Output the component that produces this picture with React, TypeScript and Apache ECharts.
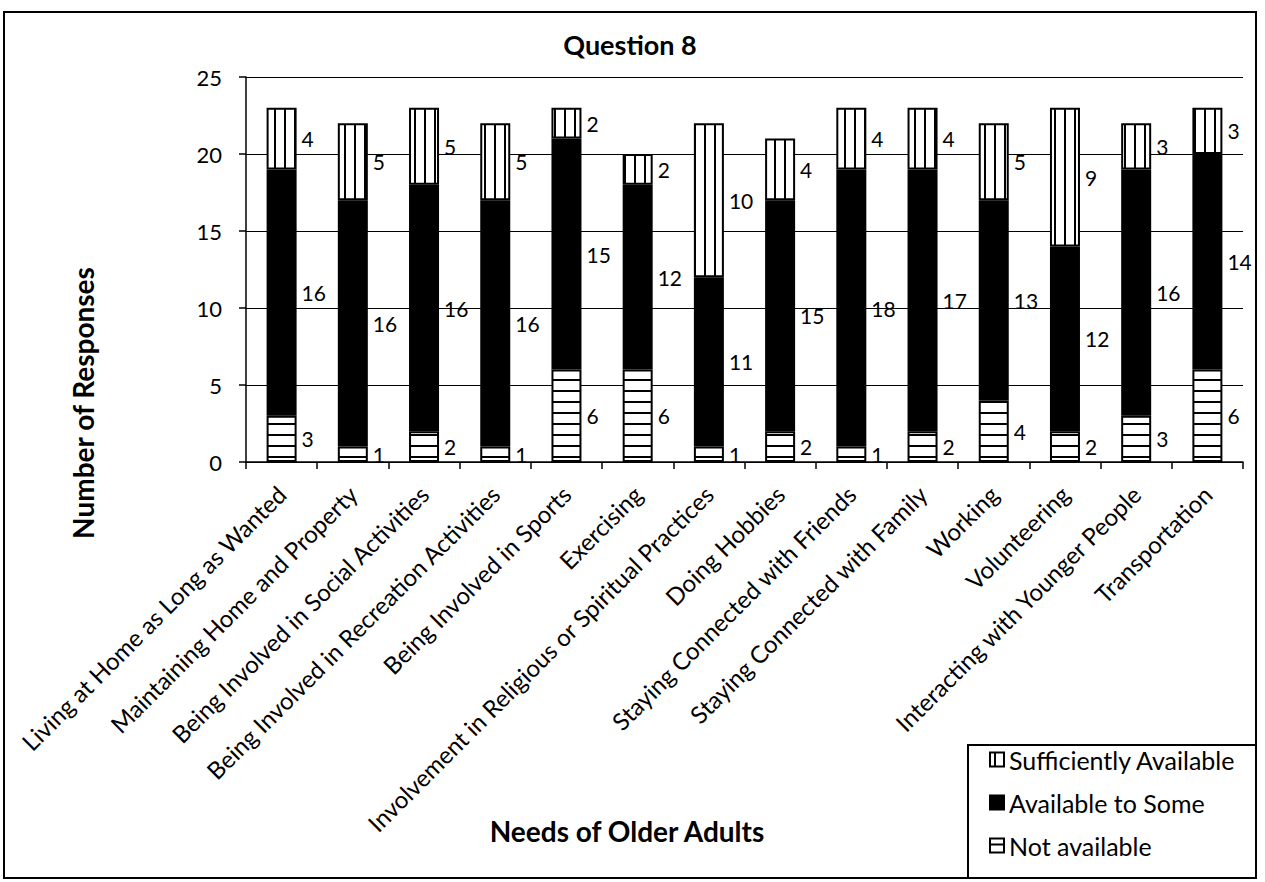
import React, { useEffect, useRef } from "react";
import * as echarts from "echarts";

const categories = [
  "Living at Home as Long as Wanted",
  "Maintaining Home and Property",
  "Being Involved in Social Activities",
  "Being Involved in Recreation Activities",
  "Being Involved in Sports",
  "Exercising",
  "Involvement in Religious or Spiritual Practices",
  "Doing Hobbies",
  "Staying Connected with Friends",
  "Staying Connected with Family",
  "Working",
  "Volunteering",
  "Interacting with Younger People",
  "Transportation",
];
const notAvailable = [3, 1, 2, 1, 6, 6, 1, 2, 1, 2, 4, 2, 3, 6];
const availableToSome = [16, 16, 16, 16, 15, 12, 11, 15, 18, 17, 13, 12, 16, 14];
const sufficientlyAvailable = [4, 5, 5, 5, 2, 2, 10, 4, 4, 4, 5, 9, 3, 3];
const seriesNames = ["Sufficiently Available", "Available to Some", "Not available"];

const FONT = "Lato";

function makePattern(vertical: boolean) {
  const c = document.createElement("canvas");
  if (vertical) {
    c.width = 10;
    c.height = 10;
  } else {
    c.width = 10;
    c.height = 11;
  }
  const ctx = c.getContext("2d")!;
  ctx.fillStyle = "#fff";
  ctx.fillRect(0, 0, c.width, c.height);
  ctx.fillStyle = "#000";
  if (vertical) ctx.fillRect(4, 0, 2, c.height);
  else ctx.fillRect(0, 5, c.width, 2);
  return c;
}

export default function App() {
  const ref = useRef<HTMLDivElement>(null);
  useEffect(() => {
    if (!ref.current) return;
    const chart = echarts.init(ref.current, undefined, { renderer: "svg" });
    const vPat = { image: makePattern(true), repeat: "repeat" } as any;
    const hPat = { image: makePattern(false), repeat: "repeat" } as any;
    const labelCfg = {
      show: true,
      position: "right",
      distance: 5,
      color: "#000",
      fontFamily: FONT,
      fontSize: 21,
    };
    const barCommon = {
      type: "bar",
      stack: "total",
      barWidth: 30,
      label: labelCfg,
    };
    const titleStyle = {
      fontFamily: FONT,
      fontWeight: "bold",
      fontSize: 28,
      fill: "#000",
      textAlign: "center",
      textVerticalAlign: "middle",
    };
    chart.setOption({
      animation: false,
      backgroundColor: "#fff",
      textStyle: { fontFamily: FONT },
      grid: { left: 246, right: 22, top: 77, bottom: 420, containLabel: false },
      legend: {
        orient: "vertical",
        left: 989,
        top: 747,
        icon: "rect",
        itemWidth: 14,
        itemHeight: 14,
        itemGap: 18,
        data: seriesNames,
        textStyle: { fontFamily: FONT, fontSize: 25, color: "#000" },
        padding: 0,
      },
      xAxis: {
        type: "category",
        data: categories,
        axisLine: { lineStyle: { color: "#000", width: 1.5 } },
        axisTick: { show: true, length: 7, lineStyle: { color: "#000", width: 1.5 } },
        axisLabel: {
          interval: 0,
          rotate: 45,
          margin: 28,
          color: "#000",
          fontFamily: FONT,
          fontSize: 24,
        },
      },
      yAxis: {
        type: "value",
        min: 0,
        max: 25,
        interval: 5,
        axisLine: { show: true, lineStyle: { color: "#000", width: 1.5 } },
        axisTick: { show: true, length: 7, lineStyle: { color: "#000", width: 1.5 } },
        splitLine: { lineStyle: { color: "#000", width: 1.2 } },
        axisLabel: { margin: 24, color: "#000", fontFamily: FONT, fontSize: 22 },
      },
      series: [
        {
          ...barCommon,
          name: "Not available",
          data: notAvailable,
          itemStyle: { color: hPat, borderColor: "#000", borderWidth: 2 },
        },
        {
          ...barCommon,
          name: "Available to Some",
          data: availableToSome,
          itemStyle: { color: "#000", borderColor: "#000", borderWidth: 2 },
        },
        {
          ...barCommon,
          name: "Sufficiently Available",
          data: sufficientlyAvailable,
          itemStyle: { color: vPat, borderColor: "#000", borderWidth: 2 },
        },
      ],
      graphic: [
        {
          type: "rect",
          shape: { x: 4, y: 12, width: 1252, height: 866 },
          style: { fill: "none", stroke: "#000", lineWidth: 2 },
          silent: true,
        },
        {
          type: "rect",
          shape: { x: 968, y: 745, width: 288, height: 133 },
          style: { fill: "none", stroke: "#000", lineWidth: 2 },
          silent: true,
        },
        {
          type: "text",
          x: 630,
          y: 44,
          style: { ...titleStyle, text: "Question 8", fontSize: 27 },
        },
        {
          type: "text",
          x: 627,
          y: 831,
          style: { ...titleStyle, text: "Needs of Older Adults" },
        },
        {
          type: "text",
          x: 83,
          y: 403,
          rotation: Math.PI / 2,
          style: { ...titleStyle, text: "Number of Responses" },
        },
      ],
    });
    return () => chart.dispose();
  }, []);
  return (
    <div
      ref={ref}
      style={{ position: "fixed", left: 0, top: 0, width: 1265, height: 882 }}
    />
  );
}
